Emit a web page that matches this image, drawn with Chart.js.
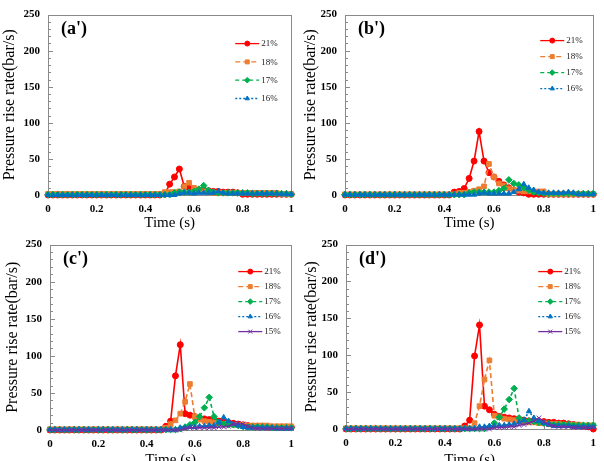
<!DOCTYPE html>
<html>
<head>
<meta charset="utf-8">
<script src="https://cdn.jsdelivr.net/npm/chart.js@4.4.1/dist/chart.umd.min.js"></script>
<style>
  html, body { margin: 0; padding: 0; background: #fff; }
  body { width: 604px; height: 461px; overflow: hidden; position: relative; }
  canvas { position: absolute; }
</style>
</head>
<body>
<canvas id="pa" width="302" height="232" style="left:0;top:0"></canvas>
<canvas id="pb" width="304" height="232" style="left:300px;top:0"></canvas>
<canvas id="pc" width="302" height="239" style="left:0;top:230px"></canvas>
<canvas id="pd" width="304" height="239" style="left:300px;top:230px"></canvas>
<script>
// time axis (s), one sample every 0.02 s
const times = [
  0, 0.02, 0.04, 0.06, 0.08, 0.1, 0.12, 0.14, 0.16, 0.18,
  0.2, 0.22, 0.24, 0.26, 0.28, 0.3, 0.32, 0.34, 0.36, 0.38,
  0.4, 0.42, 0.44, 0.46, 0.48, 0.5, 0.52, 0.54, 0.56, 0.58,
  0.6, 0.62, 0.64, 0.66, 0.68, 0.7, 0.72, 0.74, 0.76, 0.78,
  0.8, 0.82, 0.84, 0.86, 0.88, 0.9, 0.92, 0.94, 0.96, 0.98,
  1
];
const yTicks = [0, 50, 100, 150, 200, 250];
const xTicks = [0, 0.2, 0.4, 0.6, 0.8, 1];

// (a')
const a21 = [0,0,0,0,0,0,0,0,0,0, 0,0,0,0,0,0,0,0,0,0, 0,0,0,0,1,15,25,36,12,10, 8,7,7,6,5,5,4,4,4,3, 1,1,1,1,1,1,1,1,1,1, 1];
const a18 = [1.5,1.5,1.5,1.5,1.5,1.5,1.5,1.5,1.5,1.5, 1.5,1.5,1.5,1.5,1.5,1.5,1.5,1.5,1.5,1.5, 1.5,1.5,1.5,1.5,4,4,4,5,12,17, 10,6,5,4,3,3,3,3,3,3, 3,3,3,3,3,3,3,3,1,1, 1];
const a17 = [0.5,0.5,0.5,0.5,0.5,0.5,0.5,0.5,0.5,0.5, 0.5,0.5,0.5,0.5,0.5,0.5,0.5,0.5,0.5,0.5, 0.5,0.5,0.5,0.5,0.5,0.5,3,4,4,4, 5,8,13,6,4,3,3,3,3,3, 3,3,2,2,2,2,2,2,2,2, 1];
const a16 = [0,0,0,0,0,0,0,0,0,0, 0,0,0,0,0,0,0,0,0,0, 0,0,0,0,0,0,0,2,3,3, 2,3,3,3,3,5,3,2,2,2, 2,2,2,2,2,2,2,2,1,1, 1];

// (b')
const b21 = [0,0,0,0,0,0,0,0,0,0, 0,0,0,0,0,0,0,0,0,0, 0,0,4,5,9,23,47,88,47,31, 25,19,14,10,7,4,3,1,1,1, 1,1,1,1,1,1,1,1,1,1, 1];
const b18 = [1,1,1,1,1,1,1,1,1,1, 1,1,1,1,1,1,1,1,1,1, 1,1,1,3,3,4,6,8,12,43, 25,16,13,9,7,6,5,5,5,5, 5,1,1,1,1,1,1,1,1,1, 1];
const b17 = [0.5,0.5,0.5,0.5,0.5,0.5,0.5,0.5,0.5,0.5, 0.5,0.5,0.5,0.5,0.5,0.5,0.5,0.5,0.5,0.5, 0.5,0.5,0.5,0.5,0.5,3,4,4,4,4, 4,6,9,21,16,14,10,7,4,3, 2,2,2,2,2,2,2,2,2,2, 2];
const b16 = [0.5,0.5,0.5,0.5,0.5,0.5,0.5,0.5,0.5,0.5, 0.5,0.5,0.5,0.5,0.5,0.5,0.5,0.5,0.5,0.5, 0.5,0.5,0.5,0.5,0.5,0.5,0.5,2,3,2, 2,2,2,2,4,8,15,10,7,4, 3,3,3,3,3,4,3,1,1,1, 1];

// (c')
const c21 = [0,0,0,0,0,0,0,0,0,0, 0,0,0,0,0,0,0,0,0,0, 0,0,0,0,5,12,73,115,22,20, 18,16,15,14,13,12,11,10,9,8, 7,6,5,5,5,4,4,4,4,4, 4];
const c18 = [1,1,1,1,1,1,1,1,1,1, 1,1,1,1,1,1,1,1,1,1, 1,1,1,1,3,8,13,22,38,62, 18,14,12,11,10,9,8,8,7,7, 7,6,6,6,6,6,5,5,5,5, 5];
const c17 = [0.5,0.5,0.5,0.5,0.5,0.5,0.5,0.5,0.5,0.5, 0.5,0.5,0.5,0.5,0.5,0.5,0.5,0.5,0.5,0.5, 0.5,0.5,0.5,0.5,0.5,0.5,0.5,2,4,7, 10,18,30,44,18,10,8,7,7,6, 5,4,4,4,4,4,3,3,3,3, 3];
const c16 = [0.5,0.5,0.5,0.5,0.5,0.5,0.5,0.5,0.5,0.5, 0.5,0.5,0.5,0.5,0.5,0.5,0.5,0.5,0.5,0.5, 0.5,0.5,0.5,0.5,0.5,0.5,0.5,3,3,4, 4,5,5,6,6,10,17,12,8,6, 4,3,3,3,3,3,3,2,2,2, 2];
const c15 = [0,0,0,0,0,0,0,0,0,0, 0,0,0,0,0,0,0,0,0,0, 0,0,0,0,0,0,0,0,2,3, 3,3,3,3,3,4,4,5,8,9, 8,5,3,2,2,2,2,2,2,2, 2];

// (d')
const d21 = [0,0,0,0,0,0,0,0,0,0, 0,0,0,0,0,0,0,0,0,0, 0,0,0,0,4,12,99,141,31,26, 20,17,16,15,14,13,12,11,11,10, 10,9,9,8,8,7,6,5,4,3, 0];
const d18 = [1,1,1,1,1,1,1,1,1,1, 1,1,1,1,1,1,1,1,1,1, 1,1,1,1,1,1,8,31,67,93, 18,16,14,13,12,11,10,9,9,8, 8,7,7,7,6,6,6,6,5,5, 5];
const d17 = [0.5,0.5,0.5,0.5,0.5,0.5,0.5,0.5,0.5,0.5, 0.5,0.5,0.5,0.5,0.5,0.5,0.5,0.5,0.5,0.5, 0.5,0.5,0.5,0.5,0.5,0.5,0.5,0.5,0.5,3, 8,16,27,40,55,15,12,11,10,9, 8,7,6,6,6,6,5,5,5,5, 5];
const d16 = [0.5,0.5,0.5,0.5,0.5,0.5,0.5,0.5,0.5,0.5, 0.5,0.5,0.5,0.5,0.5,0.5,0.5,0.5,0.5,0.5, 0.5,0.5,0.5,0.5,0.5,0.5,0.5,3,3,4, 4,5,5,6,7,9,12,24,15,11, 8,6,4,4,4,4,3,3,3,3, 3];
const d15 = [0,0,0,0,0,0,0,0,0,0, 0,0,0,0,0,0,0,0,0,0, 0,0,0,0,0,0,0,0,0,0, 2,2,2,3,3,5,6,8,11,15, 10,6,4,3,3,3,2,2,2,2, 2];

// look of each oxygen concentration series
const seriesStyle = {
  '21%': { color: '#ff0000', dash: [], point: 'circle', r: 3 },
  '18%': { color: '#ed7d31', dash: [5, 3], point: 'rect', r: 3.3 },
  '17%': { color: '#00b050', dash: [4, 3], point: 'rectRot', r: 3.3 },
  '16%': { color: '#0070c0', dash: [2, 2], point: 'triangle', r: 3 },
  '15%': { color: '#7030a0', dash: [], point: 'crossRot', r: 3.3 }
};

const serif = "'Liberation Serif', 'Times New Roman', serif";
const frameColor = '#8a8a8a';

// frame box + inside tick marks, drawn under the data
const frameTicks = {
  id: 'frameTicks',
  beforeDatasetsDraw(chart) {
    const { ctx, chartArea: ca, scales } = chart;
    ctx.save();
    ctx.strokeStyle = frameColor;
    ctx.lineWidth = 1;
    ctx.strokeRect(Math.round(ca.left) + 0.5, Math.round(ca.top) + 0.5,
      Math.round(ca.right - ca.left), Math.round(ca.bottom - ca.top));
    ctx.beginPath();
    for (let v = 0; v <= 250; v += 10) {
      const y = Math.round(scales.y.getPixelForValue(v)) + 0.5;
      const len = v % 50 === 0 ? 5 : 3;
      ctx.moveTo(ca.left, y);
      ctx.lineTo(ca.left + len, y);
    }
    xTicks.forEach(t => {
      const x = Math.round(scales.x.getPixelForValue(t)) + 0.5;
      ctx.moveTo(x, ca.bottom);
      ctx.lineTo(x, ca.bottom - 4);
    });
    ctx.stroke();
    ctx.restore();
  }
};

// panel letter and the small legend inside the plot
const panelDecor = {
  id: 'panelDecor',
  afterDraw(chart, args, opts) {
    const { ctx, chartArea: ca } = chart;
    ctx.save();
    ctx.fillStyle = '#000';
    ctx.font = 'bold 18px ' + serif;
    ctx.textAlign = 'left';
    ctx.textBaseline = 'middle';
    ctx.fillText(opts.label, ca.left + 13, ca.top + 15);

    ctx.font = '9px ' + serif;
    chart.data.datasets.forEach((ds, i) => {
      const st = seriesStyle[ds.label];
      const y = ca.top + opts.legendTop + i * opts.legendGap;
      const x1 = ca.right - opts.legendRight;
      const x2 = x1 + 24;
      ctx.strokeStyle = st.color;
      ctx.fillStyle = st.color;
      ctx.lineWidth = 1.3;
      ctx.setLineDash(st.dash);
      ctx.beginPath();
      ctx.moveTo(x1, y);
      ctx.lineTo(x2, y);
      ctx.stroke();
      ctx.setLineDash([]);
      ctx.lineWidth = 1;
      if (Chart.helpers && Chart.helpers.drawPoint) {
        Chart.helpers.drawPoint(ctx, { pointStyle: st.point, radius: st.r - 0.5, borderWidth: 1, rotation: 0 }, (x1 + x2) / 2, y);
      }
      ctx.fillStyle = '#222';
      ctx.fillText(ds.label, x2 + 2, y + 0.5);
    });
    ctx.restore();
  }
};

function makeDatasets(labels, lists) {
  return lists.map((vals, i) => {
    const st = seriesStyle[labels[i]];
    return {
      label: labels[i],
      data: times.map((t, k) => ({ x: t, y: vals[k] })),
      borderColor: st.color,
      backgroundColor: st.color,
      borderWidth: 1.6,
      borderDash: st.dash,
      pointStyle: st.point,
      pointRadius: st.r,
      pointBorderWidth: 1,
      pointBackgroundColor: st.color,
      pointBorderColor: st.color,
      tension: 0,
      clip: false,
      order: lists.length - i
    };
  });
}

function drawPanel(id, cfg) {
  const ctx = document.getElementById(id).getContext('2d');
  return new Chart(ctx, {
    type: 'line',
    data: { datasets: makeDatasets(cfg.labels, cfg.lists) },
    options: {
      responsive: false,
      animation: false,
      devicePixelRatio: 1,
      layout: { padding: { top: cfg.padTop, right: cfg.padRight, left: 0, bottom: 0 } },
      plugins: {
        legend: { display: false },
        tooltip: { enabled: false },
        panelDecor: cfg.decor
      },
      scales: {
        x: {
          type: 'linear',
          min: 0, max: 1,
          grid: { display: false, drawTicks: false },
          border: { display: false },
          afterBuildTicks: s => { s.ticks = xTicks.map(v => ({ value: v })); },
          afterFit: s => { s.height = cfg.axisH; },
          ticks: {
            padding: 8,
            color: '#000',
            font: { family: serif, size: 11, weight: 'bold' },
            callback: v => String(+v.toFixed(1))
          },
          title: {
            display: true,
            text: 'Time (s)',
            color: '#000',
            padding: 0,
            font: { family: serif, size: 15 }
          }
        },
        y: {
          min: 0, max: 250,
          grid: { display: false, drawTicks: false },
          border: { display: false },
          afterBuildTicks: s => { s.ticks = yTicks.map(v => ({ value: v })); },
          afterFit: s => { s.width = cfg.axisW; },
          ticks: {
            padding: 8,
            color: '#000',
            font: { family: serif, size: 11, weight: 'bold' }
          },
          title: {
            display: true,
            text: 'Pressure rise rate(bar/s)',
            color: '#000',
            padding: { top: cfg.titlePad, bottom: 0 },
            font: { family: serif, size: 16 }
          }
        }
      }
    },
    plugins: [frameTicks, panelDecor]
  });
}

const four = ['21%', '18%', '17%', '16%'];
const five = ['21%', '18%', '17%', '16%', '15%'];

drawPanel('pa', {
  labels: four, lists: [a21, a18, a17, a16],
  padTop: 7, padRight: 4, axisW: 48, axisH: 37, titlePad: 0,
  decor: { label: "(a')", legendTop: 29, legendGap: 18.3, legendRight: 56 }
});
drawPanel('pb', {
  labels: four, lists: [b21, b18, b17, b16],
  padTop: 7, padRight: 9, axisW: 45, axisH: 37, titlePad: 1,
  decor: { label: "(b')", legendTop: 26, legendGap: 16, legendRight: 53 }
});
drawPanel('pc', {
  labels: five, lists: [c21, c18, c17, c16, c15],
  padTop: 11, padRight: 4, axisW: 50, axisH: 39, titlePad: 3,
  decor: { label: "(c')", legendTop: 27, legendGap: 15, legendRight: 53 }
});
drawPanel('pd', {
  labels: five, lists: [d21, d18, d17, d16, d15],
  padTop: 11, padRight: 9, axisW: 46, axisH: 40, titlePad: 2,
  decor: { label: "(d')", legendTop: 27, legendGap: 15, legendRight: 55 }
});
</script>
</body>
</html>
